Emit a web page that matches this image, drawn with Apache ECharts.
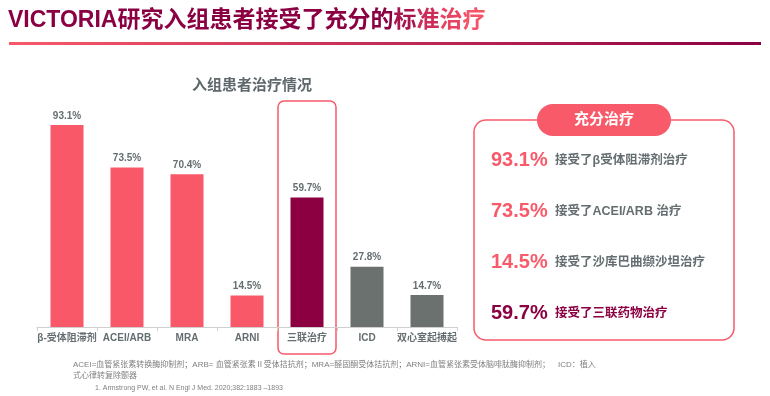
<!DOCTYPE html>
<html>
<head>
<meta charset="utf-8">
<script src="https://cdn.jsdelivr.net/npm/echarts@6/dist/echarts.min.js"></script>
<style>
  html, body { margin: 0; padding: 0; background: #fff; }
  #main { width: 770px; height: 396px; }
</style>
</head>
<body>
<div id="main"></div>
<script>
// 数据
const categories = ['β-受体阻滞剂', 'ACEI/ARB', 'MRA', 'ARNI', '三联治疗', 'ICD', '双心室起搏起'];
const values = [93.1, 73.5, 70.4, 14.5, 59.7, 27.8, 14.7];
const barColors = ['#F95868', '#F95868', '#F95868', '#F95868', '#8C0042', '#6A716F', '#6A716F'];
const panelIndex = [0, 1, 3, 4];
const panelText = ['接受了β受体阻滞剂治疗', '接受了ACEI/ARB 治疗', '接受了沙库巴曲缬沙坦治疗', '接受了三联药物治疗'];
const footLines = [
  'ACEI=血管紧张素转换酶抑制剂；ARB= 血管紧张素Ⅱ受体拮抗剂；MRA=醛固酮受体拮抗剂；ARNI=血管紧张素受体脑啡肽酶抑制剂；　ICD：植入',
  '式心律转复除颤器'
];
const refText = '1. Armstrong PW, et al. N Engl J Med. 2020;382:1883 –1893';

const PINK = '#F85A6A';
const WINE = '#8B0042';
const GRAY = '#646E70';
const FONT = '"Liberation Sans", "Noto Sans CJK SC", sans-serif';

const chart = echarts.init(document.getElementById('main'));

function panelGraphics() {
  let g = [
    {
      type: 'rect', shape: { x: 474, y: 120, width: 260, height: 220, r: 12 },
      style: { fill: '#fff', stroke: PINK, lineWidth: 1.5 }
    },
    {
      type: 'rect', shape: { x: 537, y: 104, width: 134, height: 32, r: 16 },
      style: { fill: PINK }
    },
    {
      type: 'text', x: 604, y: 120,
      style: { text: '充分治疗', fill: '#fff', font: 'bold 15px ' + FONT, align: 'center', verticalAlign: 'middle' }
    }
  ];
  panelIndex.forEach((idx, i) => {
    let y = 160 + i * 51;
    let c = idx === 4 ? WINE : PINK;
    let tc = idx === 4 ? WINE : GRAY;
    g.push({
      type: 'text', x: 491, y: y,
      style: { text: values[idx].toFixed(1) + '%', fill: c, font: 'bold 20px ' + FONT, verticalAlign: 'middle' }
    });
    g.push({
      type: 'text', x: 555, y: y + 1,
      style: { text: panelText[i], fill: tc, font: 'bold 12.5px ' + FONT, verticalAlign: 'middle' }
    });
  });
  return g;
}

let option = {
  animation: false,
  title: {
    text: '入组患者治疗情况',
    left: 247,
    top: 73,
    textAlign: 'center',
    textStyle: { fontFamily: FONT, fontSize: 15, fontWeight: 'bold', color: '#5E686B' }
  },
  grid: { left: 37, right: 313, top: 110, bottom: 69 },
  xAxis: {
    type: 'category',
    data: categories,
    axisLine: { lineStyle: { color: '#D0D0D0', width: 1 } },
    axisTick: { show: true, length: 4, lineStyle: { color: '#D0D0D0' } },
    axisLabel: {
      interval: 0, margin: 6,
      fontFamily: FONT, fontSize: 10, fontWeight: 'bold', color: GRAY
    }
  },
  yAxis: { type: 'value', min: 0, max: 100, show: false },
  series: [
    {
      type: 'bar',
      barWidth: 33,
      data: values.map((v, i) => ({ value: v, itemStyle: { color: barColors[i] } })),
      label: {
        show: true, position: 'top', distance: 4,
        formatter: p => p.value.toFixed(1) + '%',
        fontFamily: FONT, fontSize: 10, fontWeight: 'bold', color: GRAY
      }
    }
  ],
  graphic: []
};

chart.setOption(option);

// 三联治疗的高亮框
let cx = chart.convertToPixel({ xAxisIndex: 0 }, categories[4]);

let titleFont = { fontFamily: FONT, fontSize: 23, fontWeight: 'bold' };

let graphics = [
  {
    type: 'text', x: 8, y: 21,
    style: {
      text: '{a|VICTORIA研究入组患者接受了充分的}{b|标}{c|准}{d|治}{e|疗}',
      verticalAlign: 'middle',
      rich: {
        a: Object.assign({ fill: WINE }, titleFont),
        b: Object.assign({ fill: '#A8144C' }, titleFont),
        c: Object.assign({ fill: '#CC2C58' }, titleFont),
        d: Object.assign({ fill: '#E84262' }, titleFont),
        e: Object.assign({ fill: '#F55468' }, titleFont)
      }
    }
  },
  {
    type: 'rect', shape: { x: 9, y: 42, width: 752, height: 3 },
    style: {
      fill: new echarts.graphic.LinearGradient(0, 0, 1, 0, [
        { offset: 0, color: PINK },
        { offset: 1, color: WINE }
      ])
    }
  },
  {
    type: 'rect', shape: { x: cx - 29, y: 101, width: 58, height: 253, r: 6 },
    style: { fill: 'none', stroke: PINK, lineWidth: 1.5 }
  },
  {
    type: 'text', x: 73, y: 365,
    style: { text: footLines[0], font: '8px ' + FONT, fill: '#808080', verticalAlign: 'middle' }
  },
  {
    type: 'text', x: 73, y: 376,
    style: { text: footLines[1], font: '8px ' + FONT, fill: '#808080', verticalAlign: 'middle' }
  },
  {
    type: 'text', x: 95, y: 388,
    style: { text: refText, font: '7px ' + FONT, fill: '#808080', verticalAlign: 'middle' }
  }
].concat(panelGraphics());

chart.setOption({ graphic: graphics });
</script>
</body>
</html>
